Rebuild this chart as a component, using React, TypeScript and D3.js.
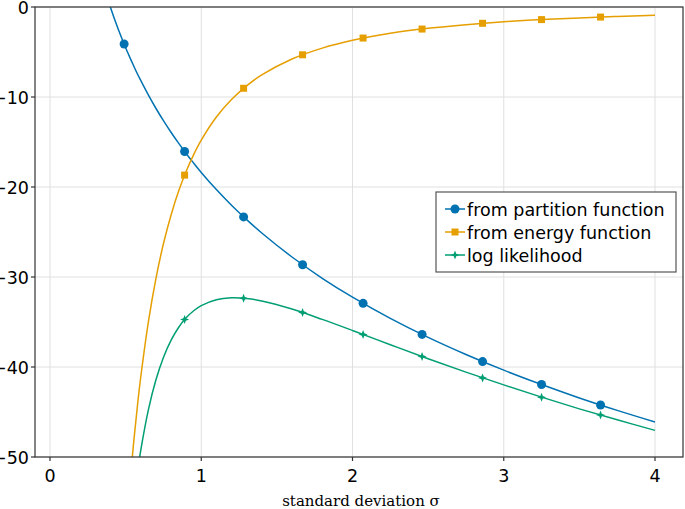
import React from "react";
import * as d3 from "d3";

// curve samples
const sigmaLine = [0.35, 0.4, 0.45, 0.5, 0.52, 0.55, 0.58, 0.6, 0.65, 0.7, 0.75, 0.8, 0.85, 0.9, 0.95, 1.0, 1.1, 1.2, 1.3, 1.4, 1.6, 1.8, 2.0, 2.25, 2.5, 2.75, 3.0, 3.25, 3.5, 3.75, 4.0];
const partitionLine = [2.62, -0.05, -2.41, -4.52, -5.3, -6.42, -7.5, -8.16, -9.76, -11.25, -12.63, -13.92, -15.13, -16.27, -17.35, -18.38, -20.29, -22.03, -23.63, -25.11, -27.78, -30.14, -32.24, -34.6, -36.71, -38.61, -40.35, -41.95, -43.44, -44.82, -46.11];
const energyLine = [-120.8, -92.5, -73.1, -59.2, -54.7, -48.93, -44.0, -41.11, -35.03, -30.2, -26.31, -23.13, -20.48, -18.27, -16.4, -14.8, -12.23, -10.28, -8.76, -7.55, -5.78, -4.57, -3.7, -2.92, -2.37, -1.96, -1.64, -1.4, -1.21, -1.05, -0.925];
const likelihoodLine = [-118.2, -92.55, -75.5, -63.7, -60.0, -55.35, -51.5, -49.27, -44.79, -41.45, -38.94, -37.05, -35.61, -34.54, -33.75, -33.18, -32.52, -32.31, -32.39, -32.66, -33.56, -34.71, -35.94, -37.52, -39.08, -40.57, -41.99, -43.35, -44.65, -45.87, -47.04];

// marker samples
const sigmaMarks = [0.49, 0.89, 1.28, 1.67, 2.07, 2.46, 2.86, 3.25, 3.64];
const partitionMarks = [-4.11, -16.05, -23.32, -28.64, -32.93, -36.38, -39.4, -41.95, -44.22];
const energyMarks = [-61.6, -18.68, -9.03, -5.31, -3.45, -2.45, -1.81, -1.4, -1.12];
const likelihoodMarks = [-65.7, -34.73, -32.35, -33.95, -36.38, -38.83, -41.21, -43.35, -45.34];

const xTicks = [0, 1, 2, 3, 4];
const yTicks = [0, -10, -20, -30, -40, -50];
const seriesNames = ["from partition function", "from energy function", "log likelihood"];
const colors = ["#0072B2", "#E69F00", "#009E73"];

const W = 685, H = 509;
const left = 35, right = 683, top = 7, bottom = 457;
const x = d3.scaleLinear().domain([0, 4]).range([50, 655]);
const y = d3.scaleLinear().domain([-50, 0]).range([bottom, top]);
const sans = "'DejaVu Sans', sans-serif";
const fs = 17.5;

function star4(cx: number, cy: number, r: number) {
  const ri = r * 0.4;
  const pts: [number, number][] = [];
  for (let i = 0; i < 8; i++) {
    const a = (Math.PI / 4) * i - Math.PI / 2;
    const rr = i % 2 === 0 ? r : ri;
    pts.push([cx + rr * Math.cos(a), cy + rr * Math.sin(a)]);
  }
  return "M" + pts.map((p) => p.join(",")).join("L") + "Z";
}

function Marker({ kind, cx, cy, color }: { kind: number; cx: number; cy: number; color: string }) {
  if (kind === 0) return <circle cx={cx} cy={cy} r={4.5} fill={color} />;
  if (kind === 1) return <rect x={cx - 3.5} y={cy - 3.5} width={7} height={7} fill={color} />;
  return <path d={star4(cx, cy, 4.5)} fill={color} />;
}

export default function App() {
  const lineGen = d3
    .line<[number, number]>()
    .x((d) => x(d[0]))
    .y((d) => y(d[1]))
    .curve(d3.curveCatmullRom.alpha(0.5));
  const lineSeries = [partitionLine, energyLine, likelihoodLine];
  const markSeries = [partitionMarks, energyMarks, likelihoodMarks];

  return (
    <svg width={W} height={H} style={{ position: "fixed", left: 0, top: 0, background: "#fff" }}>
      <defs>
        <clipPath id="plotclip">
          <rect x={left} y={top} width={right - left} height={bottom - top} />
        </clipPath>
      </defs>
      <rect x={0} y={0} width={W} height={H} fill="#fff" />
      {/* grid */}
      {xTicks.map((t) => (
        <line key={"gx" + t} x1={x(t)} x2={x(t)} y1={top} y2={bottom} stroke="#e0e0e0" strokeWidth={1} />
      ))}
      {yTicks.map((t) => (
        <line key={"gy" + t} x1={left} x2={right} y1={y(t)} y2={y(t)} stroke="#e0e0e0" strokeWidth={1} />
      ))}
      {/* series */}
      <g clipPath="url(#plotclip)">
        {lineSeries.map((vals, i) => (
          <path
            key={"l" + i}
            d={lineGen(sigmaLine.map((s, j) => [s, vals[j]] as [number, number])) || ""}
            fill="none"
            stroke={colors[i]}
            strokeWidth={1.5}
          />
        ))}
        {markSeries.map((vals, i) =>
          sigmaMarks.map((s, j) => (
            <Marker key={"m" + i + "_" + j} kind={i} cx={x(s)} cy={y(vals[j])} color={colors[i]} />
          ))
        )}
      </g>
      {/* frame */}
      <rect x={left} y={top} width={right - left} height={bottom - top} fill="none" stroke="#333" strokeWidth={1.2} />
      {/* ticks */}
      {xTicks.map((t) => (
        <g key={"xt" + t}>
          <line x1={x(t)} x2={x(t)} y1={bottom} y2={bottom + 4} stroke="#333" strokeWidth={1.2} />
          <text x={x(t)} y={482} textAnchor="middle" fontFamily={sans} fontSize={fs} fill="#000">
            {t}
          </text>
        </g>
      ))}
      {yTicks.map((t) => (
        <g key={"yt" + t}>
          <line x1={left - 4} x2={left} y1={y(t)} y2={y(t)} stroke="#333" strokeWidth={1.2} />
          <text x={29} y={y(t) + 6.5} textAnchor="end" fontFamily={sans} fontSize={fs} fill="#000">
            {t < 0 ? "\u2212" + Math.abs(t) : String(t)}
          </text>
        </g>
      ))}
      {/* x label */}
      <text x={361} y={506} textAnchor="middle" fontFamily="'DejaVu Serif', serif" fontSize={15} fill="#000">
        standard deviation σ
      </text>
      {/* legend */}
      <rect x={436} y={192} width={240} height={80} fill="#fff" stroke="#555" strokeWidth={1.2} />
      {seriesNames.map((name, i) => {
        const ly = 209 + i * 23;
        return (
          <g key={"lg" + i}>
            <line x1={445} x2={465} y1={ly} y2={ly} stroke={colors[i]} strokeWidth={1.5} />
            <Marker kind={i} cx={455} cy={ly} color={colors[i]} />
            <text x={467} y={ly + 6.5} fontFamily={sans} fontSize={fs} fill="#000">
              {name}
            </text>
          </g>
        );
      })}
    </svg>
  );
}
